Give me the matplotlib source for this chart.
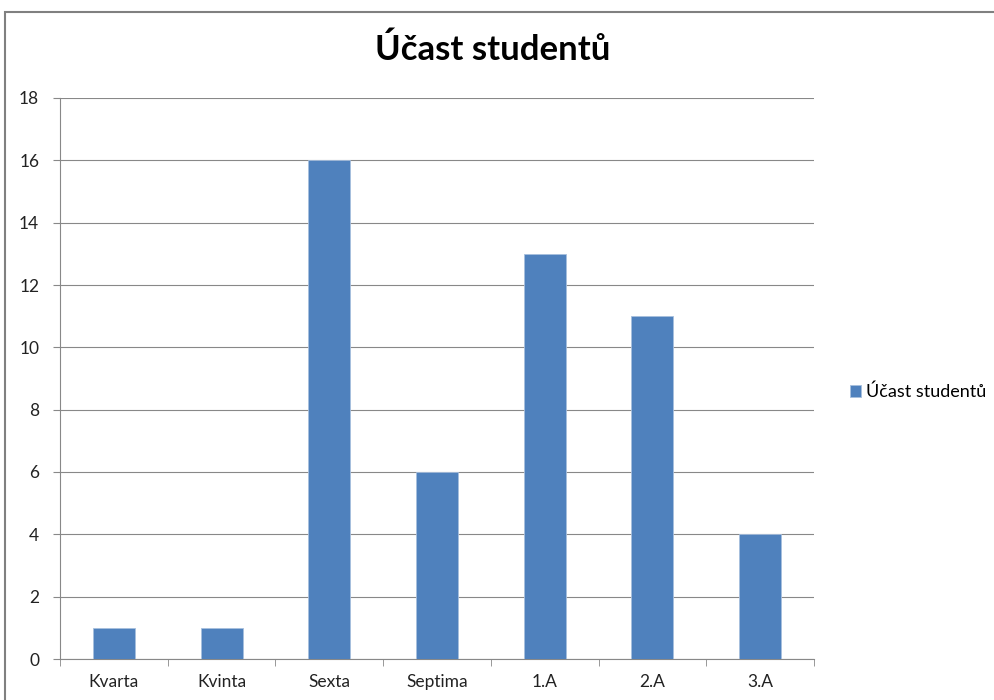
"""Bar chart of student participation per class."""

import matplotlib.pyplot as plt
from matplotlib.patches import Rectangle
import numpy as np

categories = ["Kvarta", "Kvinta", "Sexta", "Septima", "1.A", "2.A", "3.A"]
values = [1, 1, 16, 6, 13, 11, 4]
series_name = "Účast studentů"
y_ticks = list(range(0, 19, 2))

plt.rcParams["font.family"] = ["Lato", "DejaVu Sans"]

fig = plt.figure(figsize=(9.94, 7.0), dpi=100)
ax = fig.add_axes([60 / 994, 1 - 659 / 700, (814 - 60) / 994, (659 - 98) / 700])

x = np.arange(len(categories))
ax.bar(x, values, width=0.39, color="#4F81BD", edgecolor="#a7bfde", linewidth=0.6,
       label=series_name, zorder=3)

ax.set_xlim(-0.5, len(categories) - 0.5)
ax.set_ylim(0, 18)
ax.set_yticks(y_ticks)
ax.tick_params(axis="y", length=5, color="#888888", labelsize=12.5, pad=10, labelcolor="#222222")
ax.set_xticks(x)
ax.set_xticklabels(categories)
ax.set_xticks(np.arange(-0.5, len(categories)), minor=True)
ax.tick_params(axis="x", which="major", length=0, labelsize=12.5, pad=11, labelcolor="#222222")
ax.tick_params(axis="x", which="minor", length=5, color="#888888")
ax.grid(axis="y", color="#888888", linewidth=0.8, zorder=0)

for side in ["top", "right"]:
    ax.spines[side].set_visible(False)
ax.spines["left"].set_color("#888888")
ax.spines["bottom"].set_color("#888888")

fig.text(493 / 994, 1 - 50 / 700, series_name, ha="center", va="center",
         fontsize=25, fontweight="bold")

fig.legend(loc="center left", bbox_to_anchor=(834 / 994, 1 - 392 / 700), frameon=False,
           handlelength=0.6, handleheight=0.6, handletextpad=0.3, fontsize=13)

fig.patches.append(Rectangle((5 / 994, -0.1), 1.2, 0.1 + (1 - 12 / 700), transform=fig.transFigure,
                             fill=False, edgecolor="#808080", linewidth=1.5))

fig.savefig("out.png", dpi=100)
